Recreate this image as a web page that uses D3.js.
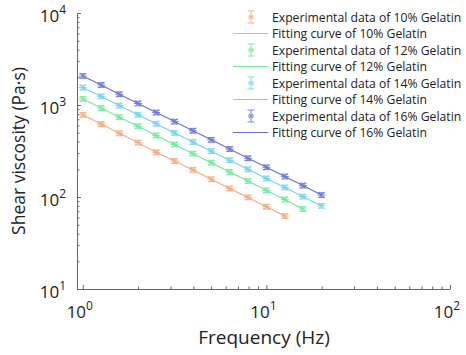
<!DOCTYPE html>
<html>
<head>
<meta charset="utf-8">
<script src="https://cdn.jsdelivr.net/npm/d3@7"></script>
<style>
  body { margin: 0; background: #fff; }
  svg { font-family: "Open Sans", "Noto Sans", sans-serif; }
  .axis path, .axis line { stroke: #666; }
</style>
</head>
<body>
<div id="chart"></div>
<script>
// frequency points (Hz), 10 per decade
var freq = [1, 1.26, 1.58, 2, 2.51, 3.16, 3.98, 5.01, 6.31, 7.94, 10, 12.6, 15.8, 19.95];

// shear viscosity (Pa·s)
var visc10 = [780, 620, 492, 390, 306, 246, 197, 156, 124, 99, 78.5, 62];
var visc12 = [1165, 925, 738, 587, 467, 372, 296, 236, 187, 149, 118, 94, 74];
var visc14 = [1550, 1240, 985, 785, 625, 497, 396, 315, 251, 200, 159, 127, 101, 80];
var visc16 = [2070, 1650, 1310, 1040, 828, 660, 525, 418, 332, 264, 210, 167, 133, 105];

var seriesNames = ['10%', '12%', '14%', '16%'];
var seriesColors = ['#f5a878', '#6fe89b', '#6fd2f2', '#6473d4'];
var seriesValues = [visc10, visc12, visc14, visc16];

var xTicks = [1, 10, 100];
var yTicks = [10, 100, 1000, 10000];

var width = 466, height = 355;
var margin = {top: 13, right: 16, bottom: 66, left: 77};
var innerW = width - margin.left - margin.right;
var innerH = height - margin.top - margin.bottom;

var svg = d3.select('#chart').append('svg')
  .attr('width', width).attr('height', height);

var canvas = svg.append('g')
  .attr('transform', 'translate(' + margin.left + ',' + margin.top + ')');

var xScale = d3.scaleLog().domain([0.93, 100]).range([0, innerW]);
var yScale = d3.scaleLog().domain([10, 10000]).range([innerH, 0]);

// minor tick values for log axes
function minorTicks(lo, hi) {
  var out = [];
  for (var p = lo; p < hi; p *= 10) {
    for (var k = 2; k <= 9; k++) out.push(p * k);
  }
  return out;
}

// y axis
canvas.append('g').attr('class', 'axis')
  .call(d3.axisRight(yScale).tickValues(yTicks).tickSize(4).tickFormat('').tickSizeOuter(0));
canvas.append('g').attr('class', 'axis')
  .call(d3.axisRight(yScale).tickValues(minorTicks(10, 10000)).tickSize(2.5).tickFormat(''))
  .select('path').remove();

// x axis
canvas.append('g').attr('class', 'axis')
  .attr('transform', 'translate(0,' + innerH + ')')
  .call(d3.axisTop(xScale).tickValues(xTicks).tickSize(4).tickFormat('').tickSizeOuter(0));
canvas.append('g').attr('class', 'axis')
  .attr('transform', 'translate(0,' + innerH + ')')
  .call(d3.axisTop(xScale).tickValues(minorTicks(1, 100)).tickSize(2.5).tickFormat(''))
  .select('path').remove();

// tick labels as 10^n
yTicks.forEach(function(v) {
  var t = canvas.append('text')
    .attr('x', -11).attr('y', yScale(v) + 9)
    .attr('text-anchor', 'end').attr('font-size', 17).attr('fill', '#222');
  t.append('tspan').text('10');
  t.append('tspan').attr('dy', -8).attr('font-size', 12).text(Math.round(Math.log10(v)));
});
xTicks.forEach(function(v) {
  var t = canvas.append('text')
    .attr('x', xScale(v) - 3).attr('y', innerH + 29)
    .attr('text-anchor', 'middle').attr('font-size', 17).attr('fill', '#222');
  t.append('tspan').text('10');
  t.append('tspan').attr('dy', -8).attr('font-size', 12).text(Math.round(Math.log10(v)));
});

// axis titles
svg.append('text')
  .attr('transform', 'translate(18,151) rotate(-90)')
  .attr('text-anchor', 'middle').attr('dominant-baseline', 'central')
  .attr('font-size', 17.5).attr('fill', '#222')
  .text('Shear viscosity (Pa\u00b7s)');
svg.append('text')
  .attr('x', 264).attr('y', 344)
  .attr('text-anchor', 'middle')
  .attr('font-size', 19).attr('fill', '#222')
  .text('Frequency (Hz)');

// asterisk marker + error bar
function drawMarker(g, cx, cy, color, r, errTop, errBot) {
  var m = g.append('g').attr('stroke', color).attr('stroke-width', 1.1).attr('fill', 'none');
  m.append('line').attr('x1', cx).attr('x2', cx).attr('y1', errTop).attr('y2', errBot);
  m.append('line').attr('x1', cx - 3.5).attr('x2', cx + 3.5).attr('y1', errTop).attr('y2', errTop);
  m.append('line').attr('x1', cx - 3.5).attr('x2', cx + 3.5).attr('y1', errBot).attr('y2', errBot);
  m.append('line').attr('x1', cx - r).attr('x2', cx + r).attr('y1', cy).attr('y2', cy);
  m.append('line').attr('x1', cx - r * 0.7).attr('x2', cx + r * 0.7).attr('y1', cy - r * 0.7).attr('y2', cy + r * 0.7);
  m.append('line').attr('x1', cx - r * 0.7).attr('x2', cx + r * 0.7).attr('y1', cy + r * 0.7).attr('y2', cy - r * 0.7);
  return m;
}

var lineGen = d3.line()
  .x(function(d) { return xScale(d[0]); })
  .y(function(d) { return yScale(d[1]); });

seriesValues.forEach(function(vals, i) {
  var data = vals.map(function(v, j) { return [freq[j], v]; });
  var color = seriesColors[i];
  canvas.append('path').datum(data)
    .attr('d', lineGen)
    .attr('fill', 'none').attr('stroke', color).attr('stroke-width', 1.1);
  var g = canvas.append('g').attr('opacity', 0.85);
  data.forEach(function(d) {
    var cx = xScale(d[0]), cy = yScale(d[1]);
    drawMarker(g, cx, cy, color, 4, yScale(d[1] * 1.06), yScale(d[1] / 1.06));
  });
});

// legend
var legend = svg.append('g');
var rowH = 16.5, legY = 17;
seriesNames.forEach(function(name, i) {
  var color = seriesColors[i];
  var y1 = legY + rowH * (2 * i);
  var y2 = legY + rowH * (2 * i + 1);
  var g = legend.append('g').attr('opacity', 0.8);
  drawMarker(g, 251, y1, color, 3, y1 - 6, y1 + 6);
  legend.append('line')
    .attr('x1', 233).attr('x2', 268).attr('y1', y2).attr('y2', y2)
    .attr('stroke', color).attr('stroke-width', 1.1);
  legend.append('text').attr('x', 272).attr('y', y1 + 4.5)
    .attr('font-size', 12.2).attr('fill', '#222')
    .text('Experimental data of ' + name + ' Gelatin');
  legend.append('text').attr('x', 272).attr('y', y2 + 4.5)
    .attr('font-size', 12.2).attr('fill', '#222')
    .text('Fitting curve of ' + name + ' Gelatin');
});
</script>
</body>
</html>
